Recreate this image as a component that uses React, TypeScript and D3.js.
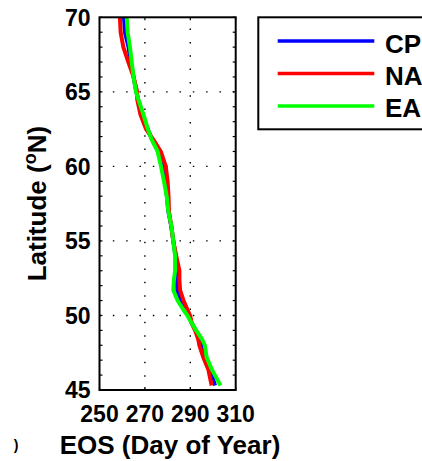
import React from "react";
import * as d3 from "d3";

const latitudes = [70, 69, 68, 67, 66, 65, 64.5, 63.5, 62.5, 61.8, 61, 60, 59, 58, 57, 56, 55, 54, 53, 52.4, 51.7, 51, 50.4, 50, 49.5, 49, 48.4, 48, 47.2, 46.4, 45.3];
const cpEOS = [260.8, 261.2, 262.8, 263.7, 265.0, 266.2, 267.0, 269.0, 271.2, 273.2, 275.8, 277.8, 278.8, 279.7, 280.3, 281.6, 282.5, 283.5, 284.3, 284.0, 284.3, 285.6, 287.9, 289.2, 290.6, 292.4, 294.3, 295.3, 296.5, 298.7, 300.9];
const naEOS = [259.0, 259.3, 260.5, 262.7, 265.0, 266.6, 266.6, 268.0, 270.5, 273.7, 277.0, 279.2, 280.0, 280.4, 280.6, 281.6, 282.5, 283.8, 285.2, 285.2, 285.5, 287.0, 288.7, 289.9, 290.6, 292.1, 293.5, 294.0, 295.7, 297.9, 299.4];
const eaEOS = [262.0, 262.4, 263.4, 264.2, 265.0, 266.1, 267.1, 269.3, 271.3, 273.0, 275.6, 277.1, 278.4, 279.6, 280.3, 281.7, 282.5, 283.3, 283.3, 282.8, 282.5, 284.4, 286.9, 288.7, 290.6, 292.6, 295.2, 296.4, 297.2, 299.4, 303.3];

const seriesNames = ["CP", "NA", "EA"];
const seriesColors = ["#0000ff", "#ff0000", "#00ff00"];
const seriesValues = [cpEOS, naEOS, eaEOS];

const xTicks = [250, 270, 290, 310];
const yTicks = [45, 50, 55, 60, 65, 70];
const yMinorTicks = d3.range(45, 71, 1);

const xLabel = "EOS (Day of Year)";

const W = 422;
const H = 461;
const L = 99.5;
const R = 235.7;
const T = 17.3;
const B = 390;
const FONT = "'Liberation Sans', Arial, Helvetica, sans-serif";

export default function App() {
  const x = d3.scaleLinear().domain([250, 310]).range([L, R]);
  const y = d3.scaleLinear().domain([45, 70]).range([B, T]);

  const line = d3
    .line<[number, number]>()
    .x((d) => x(d[0]))
    .y((d) => y(d[1]));

  const dotDash = "1.5 11.83";

  return (
    <svg
      width={W}
      height={H}
      style={{ position: "absolute", left: 0, top: 0, background: "#fff" }}
      fontFamily={FONT}
    >
      <defs>
        <clipPath id="plotclip">
          <rect x={L} y={T} width={R - L} height={B - T} />
        </clipPath>
      </defs>
      <rect x={0} y={0} width={W} height={H} fill="#fff" />

      {/* grid */}
      {xTicks.slice(1, -1).map((t) => (
        <line
          key={"gx" + t}
          x1={x(t)}
          x2={x(t)}
          y1={B}
          y2={T}
          stroke="#000"
          strokeWidth={1.4}
          strokeDasharray={dotDash}
        />
      ))}
      {yTicks.slice(1, -1).map((t) => (
        <line
          key={"gy" + t}
          x1={L}
          x2={R}
          y1={y(t)}
          y2={y(t)}
          stroke="#000"
          strokeWidth={1.4}
          strokeDasharray={dotDash}
        />
      ))}

      {/* minor/major ticks */}
      {yMinorTicks.map((t) => (
        <g key={"ty" + t}>
          <line x1={L} x2={L + 3} y1={y(t)} y2={y(t)} stroke="#000" strokeWidth={1.2} />
          <line x1={R} x2={R - 3} y1={y(t)} y2={y(t)} stroke="#000" strokeWidth={1.2} />
        </g>
      ))}
      {xTicks.map((t) => (
        <g key={"tx" + t}>
          <line x1={x(t)} x2={x(t)} y1={B} y2={B - 3} stroke="#000" strokeWidth={1.2} />
          <line x1={x(t)} x2={x(t)} y1={T} y2={T + 3} stroke="#000" strokeWidth={1.2} />
        </g>
      ))}

      {/* data lines */}
      <g clipPath="url(#plotclip)">
        {seriesValues.map((vals, i) => (
          <path
            key={seriesNames[i]}
            d={line(vals.map((v, j) => [v, latitudes[j]] as [number, number])) || ""}
            fill="none"
            stroke={seriesColors[i]}
            strokeWidth={4}
            strokeLinejoin="round"
          />
        ))}
      </g>

      {/* axes box */}
      <rect x={L} y={T} width={R - L} height={B - T} fill="none" stroke="#000" strokeWidth={2} />

      {/* tick labels */}
      {xTicks.map((t) => (
        <text
          key={"lx" + t}
          x={x(t)}
          y={421.5}
          textAnchor="middle"
          fontSize={23}
          fontWeight="bold"
        >
          {t}
        </text>
      ))}
      {yTicks.map((t) => (
        <text
          key={"ly" + t}
          x={90.5}
          y={y(t) + 8.2}
          textAnchor="end"
          fontSize={23}
          fontWeight="bold"
        >
          {t}
        </text>
      ))}

      {/* axis labels */}
      <text x={170} y={454} textAnchor="middle" fontSize={26} fontWeight="bold">
        {xLabel}
      </text>
      <text
        transform={`translate(45.5, ${(T + B) / 2}) rotate(-90)`}
        textAnchor="middle"
        fontSize={26}
        fontWeight="bold"
      >
        Latitude (
        <tspan fontSize={18} dy={-10}>o</tspan>
        <tspan dy={10}>N)</tspan>
      </text>

      {/* legend */}
      <rect x={258.3} y={17.3} width={200} height={112} fill="#fff" stroke="#000" strokeWidth={2} />
      {seriesNames.map((name, i) => (
        <g key={"lg" + name}>
          <line
            x1={277.7}
            x2={374.3}
            y1={41 + i * 32.5}
            y2={41 + i * 32.5}
            stroke={seriesColors[i]}
            strokeWidth={3.5}
          />
          <text x={385} y={52.5 + i * 32.3} fontSize={26} fontWeight="bold">
            {name}
          </text>
        </g>
      ))}

      {/* stray clipped glyph from neighbouring panel */}
      <text x={16} y={450} textAnchor="middle" fontSize={14} fontWeight="bold">
        )
      </text>
    </svg>
  );
}
